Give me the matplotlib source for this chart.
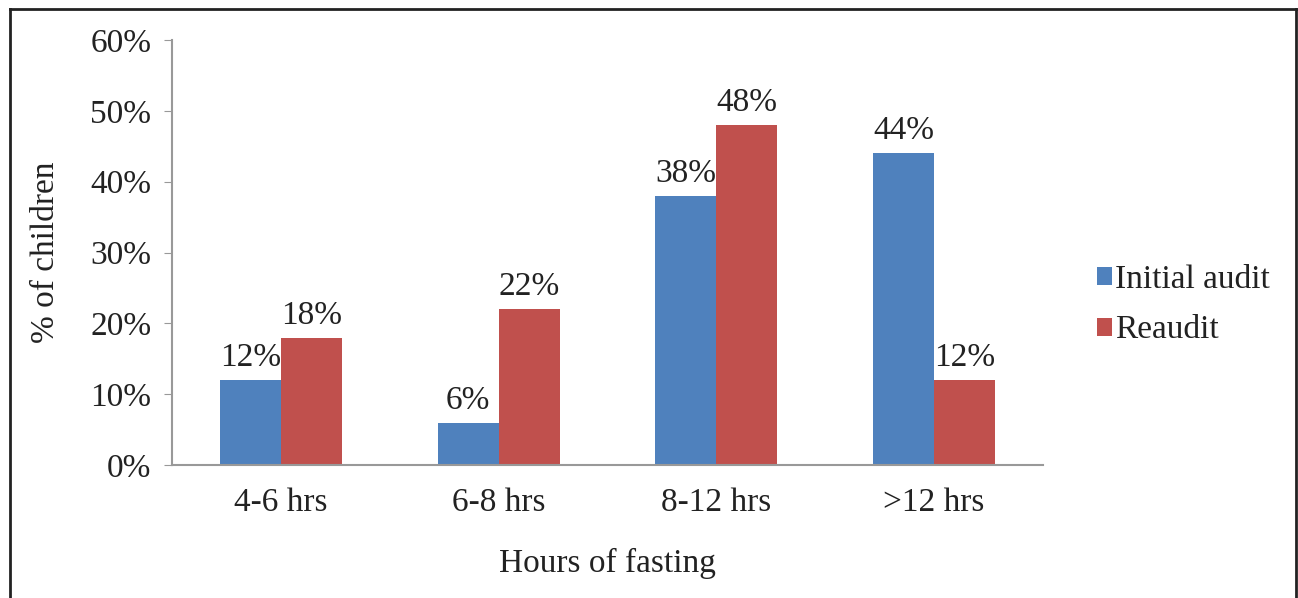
import numpy as np
import matplotlib
matplotlib.use("Agg")
import matplotlib.pyplot as plt

categories = ["4-6 hrs", "6-8 hrs", "8-12 hrs", ">12 hrs"]
initial_audit = [12, 6, 38, 44]
reaudit = [18, 22, 48, 12]
y_ticks = [0, 10, 20, 30, 40, 50, 60]

blue = "#4F81BD"
red = "#C0504D"

plt.rcParams["font.family"] = ["Liberation Serif", "DejaVu Serif"]
fs = 24

fig = plt.figure(figsize=(12.98, 5.98), dpi=100)
ax = fig.add_axes([0.1325, 0.2224, 0.671, 0.7107])

x = np.arange(len(categories))
w = 0.28
b1 = ax.bar(x - w / 2, initial_audit, width=w, color=blue, label="Initial audit")
b2 = ax.bar(x + w / 2, reaudit, width=w, color=red, label="Reaudit")

for bars, vals in [(b1, initial_audit), (b2, reaudit)]:
    for bar, v in zip(bars, vals):
        ax.annotate(f"{v}%", (bar.get_x() + bar.get_width() / 2, v),
                    xytext=(0, 5), textcoords="offset points",
                    ha="center", va="bottom", fontsize=fs, color="#222222")

ax.set_xlim(-0.5, len(categories) - 0.5)
ax.set_ylim(0, 60)
ax.set_yticks(y_ticks)
ax.set_yticklabels([f"{t}%" for t in y_ticks], fontsize=fs, color="#222222")
ax.set_xticks(x)
ax.set_xticklabels(categories, fontsize=fs, color="#222222")
ax.tick_params(axis="x", length=0, pad=16)
ax.tick_params(axis="y", length=6, color="#999999", direction="out", pad=9)

for s in ["top", "right"]:
    ax.spines[s].set_visible(False)
ax.spines["left"].set_color("#999999")
ax.spines["bottom"].set_color("#999999")
ax.spines["left"].set_linewidth(1.5)
ax.spines["bottom"].set_linewidth(1.5)

ax.set_ylabel("% of children", fontsize=fs, color="#222222")
ax.yaxis.set_label_coords(-0.128, 0.5)
ax.set_xlabel("Hours of fasting", fontsize=fs, color="#222222")
ax.xaxis.set_label_coords(0.5, -0.195)

ax.legend(loc="center left", bbox_to_anchor=(0.822, 0.49), bbox_transform=fig.transFigure,
          frameon=False, fontsize=fs, handlelength=0.45, handleheight=0.45,
          handletextpad=0.1, labelspacing=0.6, labelcolor="#222222")

# outer frame (no bottom edge)
fig.add_artist(plt.Line2D([10 / 1298, 10 / 1298], [0, 1 - 9 / 598], transform=fig.transFigure, color="#222222", lw=2))
fig.add_artist(plt.Line2D([10 / 1298, 1296 / 1298], [1 - 9 / 598, 1 - 9 / 598], transform=fig.transFigure, color="#222222", lw=2))
fig.add_artist(plt.Line2D([1296 / 1298, 1296 / 1298], [0, 1 - 9 / 598], transform=fig.transFigure, color="#222222", lw=2))

fig.savefig("out.png", dpi=100)
